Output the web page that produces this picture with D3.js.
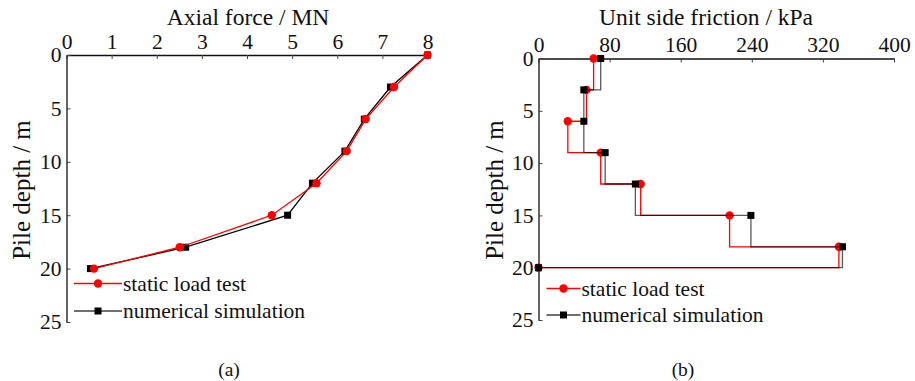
<!DOCTYPE html>
<html>
<head>
<meta charset="utf-8">
<script src="https://cdn.jsdelivr.net/npm/d3@7"></script>
<style>
  body { margin: 0; background: #fff; }
</style>
</head>
<body>
<div id="chart"></div>
<script>
// Pile depths (m) at which both series are sampled.
const depths = [0, 3, 6, 9, 12, 15, 18, 20];

// (a) Axial force, MN
const axialTest = [8, 7.26, 6.63, 6.21, 5.54, 4.55, 2.51, 0.61];
const axialSim = [8, 7.18, 6.6, 6.17, 5.45, 4.9, 2.64, 0.53];

// (b) Unit side friction, kPa
const frictionTest = [62, 54, 33, 70, 115, 215, 338, 0];
const frictionSim = [70, 51, 51, 75, 109, 239, 342, 0];

const axialTicks = [0, 1, 2, 3, 4, 5, 6, 7, 8];
const frictionTicks = [0, 80, 160, 240, 320, 400];
const depthTicks = [0, 5, 10, 15, 20, 25];

const seriesNames = ["static load test", "numerical simulation"];

const FONT = "Liberation Serif";
const width = 915;
const height = 381;

const svg = d3
  .select("#chart")
  .append("svg")
  .attr("width", width)
  .attr("height", height)
  .attr("font-family", FONT);

// Draws one panel: top x axis, left depth axis, two series and a legend.
function drawPanel(opt) {
  const x = d3.scaleLinear().domain(opt.xDomain).range(opt.xRange);
  const y = d3.scaleLinear().domain([0, 25]).range(opt.yRange);
  const g = svg.append("g");

  const xAxis = g
    .append("g")
    .attr("transform", "translate(0," + opt.yRange[0] + ")")
    .call(
      d3.axisTop(x).tickValues(opt.xTicks).tickSizeInner(-4).tickSizeOuter(0).tickPadding(6.5)
    );

  const yAxis = g
    .append("g")
    .attr("transform", "translate(" + opt.xRange[0] + ",0)")
    .call(
      d3.axisLeft(y).tickValues(depthTicks).tickSizeInner(-4).tickSizeOuter(0).tickPadding(5)
    );

  [xAxis, yAxis].forEach(function (a) {
    a.attr("font-family", FONT).attr("font-size", 21.5);
    a.selectAll("path").attr("stroke", "#111").attr("stroke-width", 1.3);
    a.selectAll("line").attr("stroke", "#444").attr("stroke-width", 1);
    a.selectAll("text").attr("fill", "#111").attr("font-family", FONT).attr("font-size", 21.5);
  });

  // Axis titles
  g.append("text")
    .attr("x", opt.titleX)
    .attr("y", 24.5)
    .attr("text-anchor", "middle")
    .attr("font-family", FONT)
    .attr("font-size", 23.5)
    .attr("fill", "#111")
    .text(opt.title);

  g.append("text")
    .attr("transform", "translate(" + opt.yLabelX + ",190) rotate(-90)")
    .attr("text-anchor", "middle")
    .attr("font-family", FONT)
    .attr("font-size", 25)
    .attr("fill", "#111")
    .text("Pile depth / m");

  g.append("text")
    .attr("x", opt.captionX)
    .attr("y", 376)
    .attr("text-anchor", "middle")
    .attr("font-family", FONT)
    .attr("font-size", 19.5)
    .attr("fill", "#111")
    .text(opt.caption);

  const line = d3
    .line()
    .x((d) => x(d[0]))
    .y((d) => y(d[1]))
    .curve(opt.curve);

  const series = [
    { name: seriesNames[0], values: opt.test, color: "#ff0000", opacity: 1, shape: "circle" },
    { name: seriesNames[1], values: opt.sim, color: "#000000", opacity: opt.blackOpacity, shape: "square" },
  ];
  const order = opt.redOnTop ? [series[1], series[0]] : series;

  order.forEach(function (s) {
    const pts = s.values.map((v, i) => [v, depths[i]]);
    g.append("path")
      .datum(pts)
      .attr("d", line)
      .attr("fill", "none")
      .attr("stroke", s.color)
      .attr("stroke-opacity", s.opacity)
      .attr("stroke-width", 1.3);
    drawMarkers(g, pts.map((p) => [x(p[0]), y(p[1])]), s);
  });

  // Legend
  series.forEach(function (s, i) {
    const ly = opt.legendY + i * opt.legendGap;
    g.append("line")
      .attr("x1", opt.legendX)
      .attr("x2", opt.legendX + opt.legendLen)
      .attr("y1", ly)
      .attr("y2", ly)
      .attr("stroke", s.color)
      .attr("stroke-opacity", s.shape === "square" ? 0.75 : 1)
      .attr("stroke-width", 1.3);
    drawMarkers(g, [[opt.legendX + opt.legendLen / 2, ly]], s);
    g.append("text")
      .attr("x", opt.legendX + opt.legendLen + 1)
      .attr("y", ly + 7)
      .attr("font-family", FONT)
      .attr("font-size", 21.5)
      .attr("fill", "#111")
      .text(s.name);
  });
}

function drawMarkers(g, pts, s) {
  if (s.shape === "circle") {
    g.selectAll(null)
      .data(pts)
      .enter()
      .append("circle")
      .attr("cx", (d) => d[0])
      .attr("cy", (d) => d[1])
      .attr("r", 4.2)
      .attr("fill", s.color);
  } else {
    g.selectAll(null)
      .data(pts)
      .enter()
      .append("rect")
      .attr("x", (d) => d[0] - 3.5)
      .attr("y", (d) => d[1] - 3.5)
      .attr("width", 7)
      .attr("height", 7)
      .attr("fill", s.color);
  }
}

drawPanel({
  xDomain: [0, 8],
  xRange: [66.5, 427.5],
  yRange: [55, 322],
  xTicks: axialTicks,
  title: "Axial force / MN",
  titleX: 248,
  yLabelX: 30,
  caption: "(a)",
  captionX: 229,
  test: axialTest,
  sim: axialSim,
  curve: d3.curveLinear,
  blackOpacity: 1,
  redOnTop: true,
  legendX: 74,
  legendLen: 48,
  legendY: 283.5,
  legendGap: 27.5,
});

drawPanel({
  xDomain: [0, 400],
  xRange: [538.5, 894],
  yRange: [58.5, 320],
  xTicks: frictionTicks,
  title: "Unit side friction / kPa",
  titleX: 706,
  yLabelX: 503,
  caption: "(b)",
  captionX: 683,
  test: frictionTest,
  sim: frictionSim,
  curve: d3.curveStepBefore,
  blackOpacity: 0.65,
  redOnTop: false,
  legendX: 546.5,
  legendLen: 34,
  legendY: 288.5,
  legendGap: 26.5,
});
</script>
</body>
</html>
